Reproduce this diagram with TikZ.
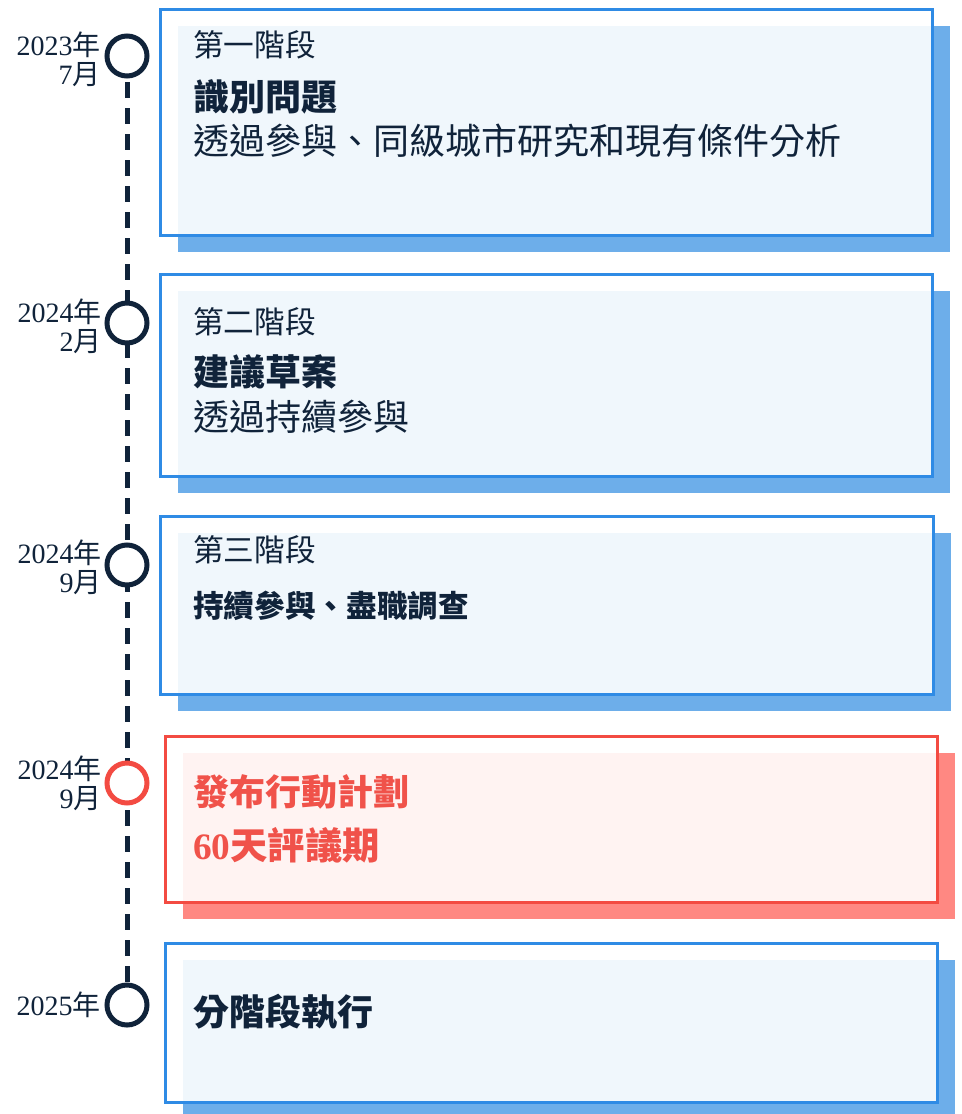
\documentclass[tikz,border=0pt]{standalone}
\usepackage{fontspec}
\setmainfont{Liberation Serif}
\newfontfamily\cjk{Noto Sans CJK TC}
\usetikzlibrary{shadows}

\definecolor{navy}{HTML}{10233A}
\definecolor{edgeblue}{HTML}{2F8BE5}
\definecolor{shadeblue}{HTML}{6DAEEA}
\definecolor{edgered}{HTML}{F34B42}
\definecolor{shadered}{HTML}{FF8882}
\definecolor{textred}{HTML}{F0524A}

\newcommand{\zh}[1]{{\cjk #1}}

\begin{document}
\begin{tikzpicture}[x=0.75pt,y=-0.75pt,
    card/.style={draw=edgeblue,line width=2.25pt,fill=white,fill opacity=0.9,
      drop shadow={shadow xshift=13.5pt,shadow yshift=-12.75pt,fill=shadeblue,opacity=1}},
    redcard/.style={card,draw=edgered,
      drop shadow={shadow xshift=13.5pt,shadow yshift=-12.75pt,fill=shadered,opacity=1}},
    timeline/.style={navy,line width=3.75pt,dash pattern=on 12pt off 7.5pt},
    dot/.style={circle,draw=navy,fill=white,line width=3.75pt,minimum size=30pt,inner sep=0pt},
    date/.style={anchor=east,align=right,inner sep=0pt,text=navy,font=\fontsize{21}{21.5}\selectfont},
    stage/.style={anchor=west,inner sep=0pt,text=navy,font=\cjk\fontsize{23}{27}\selectfont},
    title/.style={anchor=west,inner sep=0pt,text=navy,font=\cjk\bfseries\fontsize{27}{32}\selectfont},
    body/.style={anchor=west,inner sep=0pt,text=navy,font=\cjk\fontsize{27}{32}\selectfont}]

  \useasboundingbox (0,0) rectangle (961,1114);

  % cards
  \draw[card] (160,9) rectangle (932,235);
  \draw[card] (160,274) rectangle (932,476);
  \draw[card] (160,516) rectangle (933,694);
  \draw[redcard] (165,736) rectangle (937,902);
  \draw[card] (165,943) rectangle (937,1102);

  % timeline
  \coordinate (t1) at (127,56);
  \coordinate (t2) at (127,323);
  \coordinate (t3) at (127,565);
  \coordinate (t4) at (127,783);
  \coordinate (t5) at (127,1005);
  \draw[timeline] (t1) -- (t5);

  \node[dot] (d1) at (t1) {};
  \node[dot] (d2) at (t2) {};
  \node[dot] (d3) at (t3) {};
  \node[dot,draw=edgered] (d4) at (t4) {};
  \node[dot] (d5) at (t5) {};

  \node[date] (y1) at (101,59) {2023\zh{年}\\7\zh{月}};
  \node[date] (y2) at (102,326) {2024\zh{年}\\2\zh{月}};
  \node[date] (y3) at (102,567) {2024\zh{年}\\9\zh{月}};
  \node[date] (y4) at (102,783) {2024\zh{年}\\9\zh{月}};
  \node[date] (y5) at (101,1005) {2025\zh{年}};

  % texts
  \node[stage] (p1) at (193,45) {第一階段};
  \node[title] (h1) at (193,97) {識別問題};
  \node[body] (b1) at (193,141) {透過參與、同級城市研究和現有條件分析};

  \node[stage] (p2) at (193,322) {第二階段};
  \node[title] (h2) at (193,372) {建議草案};
  \node[body] (b2) at (193,417) {透過持續參與};

  \node[stage] (p3) at (193,550) {第三階段};
  \node[stage,font=\cjk\bfseries\fontsize{23}{27}\selectfont] (h3) at (193,606) {持續參與、盡職調查};

  \node[title,text=textred] (h4) at (193,792) {發布行動計劃};
  \node[title,text=textred,font=\bfseries\fontsize{28}{32}\selectfont] (b4) at (193,845) {60\zh{天評議期}};

  \node[title] (h5) at (193,1012) {分階段執行};
\end{tikzpicture}
\end{document}
